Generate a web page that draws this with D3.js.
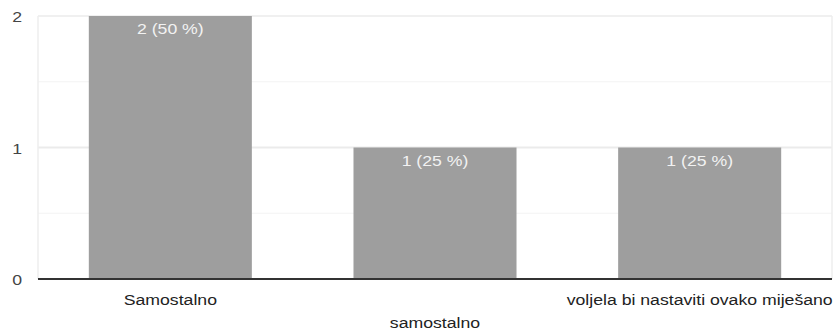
<!DOCTYPE html>
<html>
<head>
<meta charset="utf-8">
<script src="https://cdn.jsdelivr.net/npm/d3@7"></script>
<style>
  html, body { margin: 0; padding: 0; background: #fff; }
  svg { display: block; font-family: "Liberation Sans", Arial, sans-serif; }
</style>
</head>
<body>
<svg id="chart" width="835" height="331"></svg>
<script>
// Answer categories and counts
const categories = ["Samostalno", "samostalno", "voljela bi nastaviti ovako miješano"];
const counts = [2, 1, 1];
const percents = [50, 25, 25];
const yTicks = [0, 1, 2];
const yMinorTicks = [0.5, 1.5];

const svg = d3.select("#chart");
const plotLeft = 38, plotRight = 832, plotTop = 16, plotBottom = 279;
const fontSize = 15.5, stretch = 1.14;

const x = d3.scaleBand()
  .domain(categories)
  .range([plotLeft, plotRight])
  .paddingInner(0.384)
  .paddingOuter(0.192);

const y = d3.scaleLinear().domain([0, 2]).range([plotBottom, plotTop]);

// minor gridlines
svg.append("g").selectAll("line").data(yMinorTicks).join("line")
  .attr("x1", plotLeft).attr("x2", plotRight)
  .attr("y1", d => y(d)).attr("y2", d => y(d))
  .attr("stroke", "#f3f3f3").attr("stroke-width", 1);

// major gridlines
svg.append("g").selectAll("line").data(yTicks.filter(d => d > 0)).join("line")
  .attr("x1", plotLeft).attr("x2", plotRight)
  .attr("y1", d => y(d)).attr("y2", d => y(d))
  .attr("stroke", "#ebebeb").attr("stroke-width", d => d === 2 ? 1.5 : 2);

// side frame lines
svg.append("g").selectAll("line").data([plotLeft, plotRight]).join("line")
  .attr("x1", d => d).attr("x2", d => d)
  .attr("y1", plotTop).attr("y2", plotBottom)
  .attr("stroke", "#eeeeee").attr("stroke-width", 1.5);

// bars
svg.append("g").selectAll("rect").data(categories).join("rect")
  .attr("x", d => x(d))
  .attr("y", (d, i) => y(counts[i]))
  .attr("width", x.bandwidth())
  .attr("height", (d, i) => y(0) - y(counts[i]))
  .attr("fill", "#9e9e9e");

// value labels inside bars
svg.append("g").selectAll("text").data(categories).join("text")
  .attr("transform", (d, i) => `translate(${x(d) + x.bandwidth() / 2},${y(counts[i]) + 18}) scale(${stretch},1)`)
  .attr("text-anchor", "middle")
  .attr("font-size", fontSize)
  .attr("fill", "#f2f2f2")
  .text((d, i) => `${counts[i]} (${percents[i]} %)`);

// baseline
svg.append("line")
  .attr("x1", plotLeft).attr("x2", plotRight)
  .attr("y1", y(0)).attr("y2", y(0))
  .attr("stroke", "#333").attr("stroke-width", 2);

// y tick labels
svg.append("g").selectAll("text").data(yTicks).join("text")
  .attr("transform", d => `translate(22,${y(d) + 6}) scale(${stretch},1)`)
  .attr("text-anchor", "end")
  .attr("font-size", fontSize)
  .attr("fill", "#444")
  .text(d => d);

// x category labels, staggered on two rows
svg.append("g").selectAll("text").data(categories).join("text")
  .attr("transform", (d, i) => `translate(${x(d) + x.bandwidth() / 2},${i % 2 === 0 ? 305 : 328}) scale(${stretch},1)`)
  .attr("text-anchor", "middle")
  .attr("font-size", fontSize)
  .attr("fill", "#222")
  .text(d => d);
</script>
</body>
</html>
